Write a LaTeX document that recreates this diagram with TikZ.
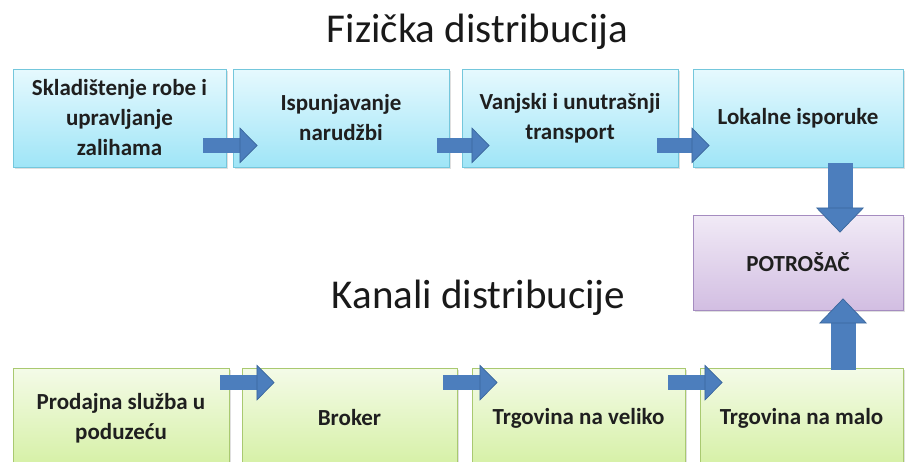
\documentclass[tikz,border=0pt]{standalone}
\usepackage{fontspec}
\setmainfont{Carlito}
\usetikzlibrary{arrows.meta, calc, shadows}

\definecolor{fizTop}{HTML}{E6F9FE}
\definecolor{fizBottom}{HTML}{9FE5F7}
\definecolor{fizLine}{HTML}{74C7DC}
\definecolor{kanTop}{HTML}{F4FBE8}
\definecolor{kanBottom}{HTML}{D5F0A4}
\definecolor{kanLine}{HTML}{A9C970}
\definecolor{potTop}{HTML}{F1EAF6}
\definecolor{potBottom}{HTML}{D2BEE2}
\definecolor{potLine}{HTML}{A58CC0}
\definecolor{arrowFill}{HTML}{4C7EBD}
\definecolor{arrowLine}{HTML}{3A679C}

\begin{document}
\begin{tikzpicture}[x=1pt, y=-1pt,
  box/.style={rectangle, line width=0.8pt, align=center, text=black!88,
    font=\bfseries\fontsize{23}{30}\selectfont,
    drop shadow={shadow xshift=1.5pt, shadow yshift=-1.5pt, opacity=0.25}},
  fizbox/.style={box, draw=fizLine, top color=fizTop, bottom color=fizBottom, minimum height=98pt},
  kanbox/.style={box, draw=kanLine, top color=kanTop, bottom color=kanBottom, minimum height=100pt},
  potbox/.style={box, draw=potLine, top color=potTop, bottom color=potBottom, minimum height=95pt},
  heading/.style={font=\fontsize{41}{48}\selectfont, text=black!90, anchor=base},
  flow/.style={draw=arrowFill, line width=15pt,
    -{Triangle[length=18pt, width=36pt, fill=arrowFill, color=arrowLine, line width=0.7pt]}},
  flowv/.style={draw=arrowFill, line width=25pt,
    -{Triangle[length=25pt, width=48pt, fill=arrowFill, color=arrowLine, line width=0.7pt]}}]
\useasboundingbox (0,0) rectangle (905,461);
\clip (0,0) rectangle (905,461);

% headings
\node[heading] (fiz) at (477.5,42) {Fizička distribucija};
\node[heading] (kan) at (478.5,308) {Kanali distribucije};

% physical distribution row
\node[fizbox, minimum width=213pt] (skl) at (119.5,118) {Skladištenje robe i\\upravljanje\\zalihama};
\node[fizbox, minimum width=216pt] (isp) at (341,118) {Ispunjavanje\\narudžbi};
\node[fizbox, minimum width=216pt] (van) at (570,118) {Vanjski i unutrašnji\\transport};
\node[fizbox, minimum width=210pt] (lok) at (798,118) {Lokalne isporuke};

% consumer
\node[potbox, minimum width=210pt] (pot) at (798,262.5) {POTROŠAČ};

% channels row
\node[kanbox, minimum width=216pt] (pro) at (121,418) {Prodajna služba u\\poduzeću};
\node[kanbox, minimum width=215pt] (bro) at (349.5,418) {Broker};
\node[kanbox, minimum width=213pt] (vel) at (578.5,418) {Trgovina na veliko};
\node[kanbox, minimum width=203pt] (mal) at (801.5,418) {Trgovina na malo};

% arrows
\draw[flow] ($(skl.south east)+(-23,-22)$) -- ($(isp.south west)+(25,-22)$);
\draw[flow] ($(isp.south east)+(-12,-22)$) -- ($(van.south west)+(28,-22)$);
\draw[flow] ($(van.south east)+(-21,-22)$) -- ($(lok.south west)+(17,-22)$);
\draw[flowv] ($(lok.south)+(42,-4)$) -- ($(pot.north)+(42,18)$);
\draw[flowv] ($(mal.north)+(41.5,2)$) -- ($(pot.south)+(45,-12)$);
\draw[flow] ($(pro.north east)+(-9,15)$) -- ($(bro.north west)+(33,15)$);
\draw[flow] ($(bro.north east)+(-14,15)$) -- ($(vel.north west)+(26,15)$);
\draw[flow] ($(vel.north east)+(-17,15)$) -- ($(mal.north west)+(23,15)$);
\end{tikzpicture}
\end{document}
